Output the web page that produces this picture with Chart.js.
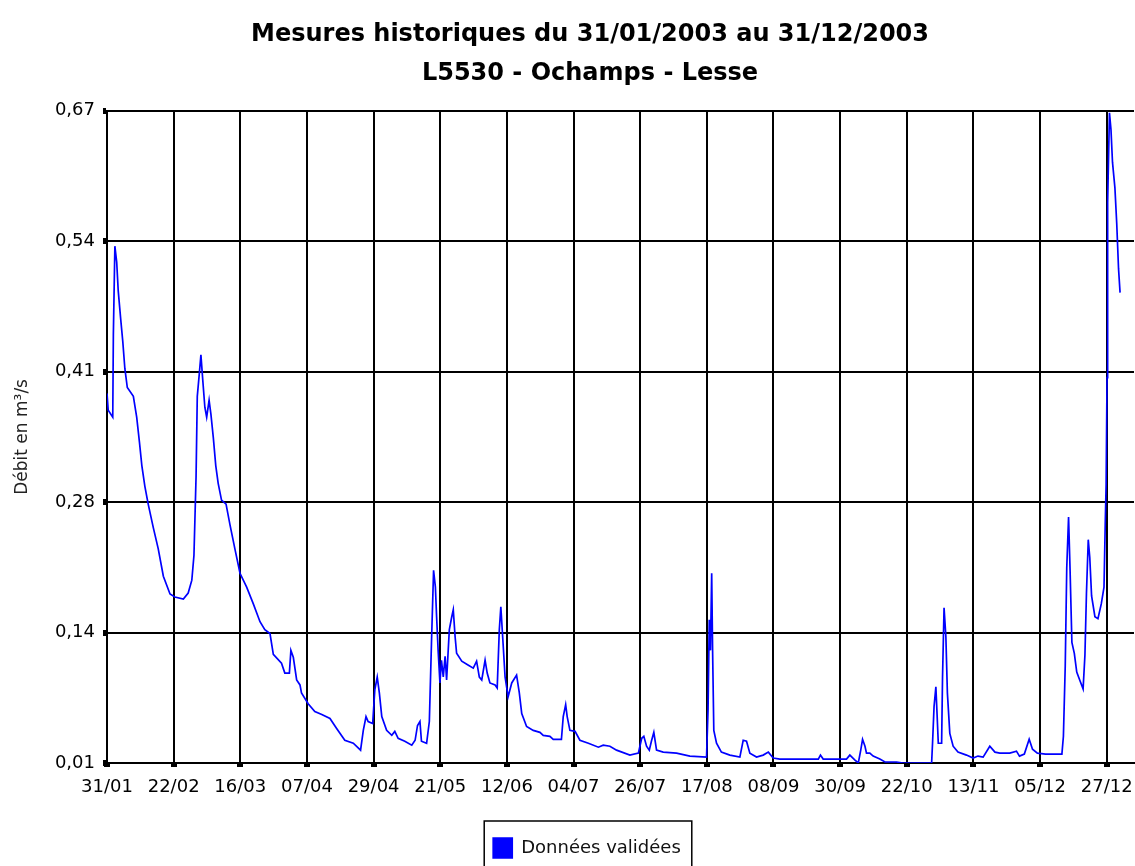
<!DOCTYPE html>
<html>
<head>
<meta charset="utf-8">
<script src="https://cdn.jsdelivr.net/npm/chart.js@4.4.1/dist/chart.umd.min.js"></script>
<style>
  html, body { margin: 0; padding: 0; background: #fff; overflow: hidden; }
  #wrap { width: 1135px; height: 868px; position: relative; }
</style>
</head>
<body>
<div id="wrap"><canvas id="chart"></canvas></div>
<script>
// days counted from 31/01/2003 (m3/s)
const days = [
  0, 0.4, 1.9, 2.1, 2.6, 3.2, 3.7, 4.5, 5.2, 5.9, 6.7, 8.7, 9.8, 10.7, 11.5, 12.5, 13.6, 15.3, 16.9, 18.6,
  20.8, 22.4, 25.2, 26.8, 28, 28.7, 29.4, 29.8, 30.5, 31, 31.6, 32.3, 32.9, 33.7, 34.3, 35.1, 35.9, 36.7, 37.8, 39.3,
  40.6, 42.2, 43.9, 46.1, 48.3, 50.5, 52.1, 53.8, 54.9, 57.6, 58.7, 60.2, 60.7, 61.5, 62.6, 63.7, 64.2, 66.4, 68.6, 70.9,
  73.6, 75.8, 78.5, 81.3, 83.7, 84.6, 85.5, 86.2, 87.7, 88.4, 89.2, 89.9, 90.7, 92.3, 94, 95, 96.1, 98.3, 100.6, 101.7,
  102.5, 103.3, 103.8, 105.5, 106.4, 107.1, 107.8, 108.4, 108.8, 109.3, 109.9, 110.4, 111, 111.6, 112.1, 113, 113.8, 114.3, 114.9, 115.4,
  117.1, 119.3, 120.9, 122, 122.9, 123.7, 124.8, 125.5, 126.4, 128.1, 128.8, 129.5, 130, 130.6, 131.4, 132.4, 133.6, 135.2, 136.1, 136.9,
  138.5, 140.7, 142.9, 144, 146.2, 147.3, 150, 150.6, 151.4, 151.9, 152.8, 154.5, 156.1, 158.9, 162.2, 163.8, 166, 168.2, 172.6, 175.4,
  176.5, 177.2, 178.1, 179, 179.7, 180.5, 181.4, 183.6, 188, 192.4, 197.9, 198.4, 198.8, 199.2, 199.6, 199.9, 200.3, 201.2, 202.8, 205.6,
  208.9, 210, 211.1, 212.2, 214.4, 216.6, 218.3, 219.9, 222.1, 234.8, 235.5, 236.4, 244.1, 245.2, 246.9, 248, 248.8, 249.4, 250.2, 250.7,
  251.8, 252.9, 255.1, 256.8, 260.6, 262.8, 272.2, 272.5, 273, 273.6, 274, 274.4, 275.5, 275.8, 276.3, 276.9, 277.4, 278.2, 279.3, 280.9,
  283.7, 285.9, 287.5, 289.2, 291.4, 293.1, 294.7, 298, 300.2, 301.2, 302.8, 304.4, 305.5, 307.1, 309.8, 315.2, 315.7, 316.3, 316.8, 317.4,
  317.9, 318.5, 319.3, 320.1, 321.2, 322.2, 322.8, 323.3, 323.9, 324.4, 325, 326.1, 327.1, 328.2, 329.1, 329.5, 329.8, 330.1, 330.3, 330.9,
  331.4, 331.9, 332.7, 333.3, 333.9, 334.4
]
const debit = [
  0.384, 0.367, 0.360, 0.444, 0.533, 0.517, 0.488, 0.460, 0.437, 0.409, 0.390, 0.381, 0.360, 0.335, 0.311, 0.290, 0.272, 0.248, 0.227, 0.199,
  0.181, 0.178, 0.176, 0.182, 0.195, 0.220, 0.300, 0.381, 0.405, 0.423, 0.398, 0.370, 0.360, 0.377, 0.363, 0.339, 0.311, 0.293, 0.276, 0.272,
  0.251, 0.227, 0.202, 0.188, 0.171, 0.153, 0.145, 0.141, 0.120, 0.111, 0.101, 0.101, 0.124, 0.117, 0.094, 0.089, 0.081, 0.070, 0.062, 0.059,
  0.055, 0.045, 0.033, 0.030, 0.023, 0.043, 0.057, 0.052, 0.050, 0.084, 0.097, 0.081, 0.057, 0.043, 0.038, 0.042, 0.035, 0.032, 0.028, 0.033,
  0.048, 0.052, 0.032, 0.030, 0.052, 0.131, 0.205, 0.188, 0.158, 0.124, 0.091, 0.114, 0.097, 0.118, 0.094, 0.145, 0.158, 0.165, 0.138, 0.121,
  0.113, 0.109, 0.106, 0.113, 0.097, 0.094, 0.114, 0.101, 0.091, 0.089, 0.086, 0.145, 0.168, 0.138, 0.097, 0.077, 0.091, 0.099, 0.081, 0.060,
  0.047, 0.043, 0.041, 0.038, 0.037, 0.034, 0.034, 0.057, 0.069, 0.057, 0.043, 0.042, 0.033, 0.030, 0.026, 0.028, 0.027, 0.023, 0.018, 0.020,
  0.035, 0.037, 0.027, 0.023, 0.032, 0.041, 0.023, 0.021, 0.020, 0.017, 0.016, 0.064, 0.155, 0.124, 0.202, 0.124, 0.043, 0.030, 0.021, 0.018,
  0.016, 0.033, 0.032, 0.020, 0.016, 0.018, 0.021, 0.015, 0.014, 0.014, 0.018, 0.014, 0.014, 0.018, 0.013, 0.010, 0.023, 0.034, 0.027, 0.020,
  0.020, 0.017, 0.014, 0.011, 0.011, 0.010, 0.010, 0.030, 0.067, 0.087, 0.059, 0.030, 0.030, 0.097, 0.167, 0.138, 0.081, 0.040, 0.027, 0.021,
  0.018, 0.015, 0.017, 0.016, 0.027, 0.021, 0.020, 0.020, 0.022, 0.017, 0.019, 0.034, 0.024, 0.020, 0.019, 0.019, 0.037, 0.108, 0.207, 0.259,
  0.205, 0.132, 0.121, 0.102, 0.093, 0.085, 0.119, 0.181, 0.236, 0.218, 0.179, 0.158, 0.156, 0.171, 0.188, 0.251, 0.292, 0.400, 0.577, 0.668,
  0.651, 0.618, 0.592, 0.556, 0.510, 0.486
]

const xTickDays = [0, 22, 44, 66, 88, 110, 132, 154, 176, 198, 220, 242, 264, 286, 308, 330]
const xTickLabels = ["31/01", "22/02", "16/03", "07/04", "29/04", "21/05", "12/06", "04/07",
                     "26/07", "17/08", "08/09", "30/09", "22/10", "13/11", "05/12", "27/12"]
const yTickValues = [0.01, 0.142, 0.274, 0.406, 0.538, 0.67]
const yTickLabels = ["0,01", "0,14", "0,28", "0,41", "0,54", "0,67"]

const titleLines = ["Mesures historiques du 31/01/2003 au 31/12/2003", "L5530 - Ochamps - Lesse"]
const seriesLabel = "Données validées"
const yTitle = "Débit en m³/s"

const points = days.map((d, i) => ({x: d, y: debit[i]}))

// the original picture centres title and legend a little right of the canvas middle
const shiftBlocks = {
    id: "shiftBlocks",
    afterLayout(chart){
        chart.titleBlock.left += 23
        chart.titleBlock.right += 23
        chart.legend.left += 20
        chart.legend.right += 20
    },
    afterDraw(chart){
        const lg = chart.legend
        const hb = lg.legendHitBoxes[0]
        if (!hb) return
        const cx = (lg.left + lg.right) / 2
        const ctx = chart.ctx
        ctx.save()
        ctx.strokeStyle = "#000"
        ctx.lineWidth = 1.5
        ctx.strokeRect(cx - hb.width / 2 - 9, lg.top - 7, hb.width + 20, 70)
        ctx.restore()
    }
}

Chart.defaults.font.family = "'DejaVu Sans', sans-serif"
Chart.defaults.color = "#000"

new Chart(document.getElementById("chart"), {
    type: "line",
    data: {
        datasets: [{
            label: seriesLabel,
            data: points,
            borderColor: "rgb(0,0,255)",
            backgroundColor: "rgb(0,0,255)",
            borderWidth: 1.7,
            pointRadius: 0,
            tension: 0
        }]
    },
    options: {
        responsive: true,
        maintainAspectRatio: false,
        animation: false,
        layout: { padding: { left: 0, right: 1, top: 0, bottom: 0 } },
        plugins: {
            title: {
                display: true,
                text: titleLines,
                color: "#000",
                font: { size: 24, weight: "bold", lineHeight: 1.6 },
                padding: { top: 16, bottom: 18 }
            },
            legend: {
                position: "bottom",
                labels: {
                    boxWidth: 19,
                    boxHeight: 20,
                    padding: 10,
                    color: "#111",
                    font: { size: 18 }
                }
            },
            tooltip: { enabled: false }
        },
        scales: {
            x: {
                type: "linear",
                min: 0,
                max: 339,
                afterBuildTicks: scale => { scale.ticks = xTickDays.map(v => ({value: v})) },
                afterFit: scale => {
                    scale.height = 65
                    scale.paddingLeft = 0
                    scale.paddingRight = 0
                },
                ticks: {
                    autoSkip: false,
                    maxRotation: 0,
                    padding: 10,
                    color: "#000",
                    font: { size: 18 },
                    callback: (v, i) => xTickLabels[i]
                },
                grid: { color: "#000", lineWidth: 2, tickLength: 4, tickWidth: 6, tickColor: "#000" },
                border: { color: "#000", width: 2 }
            },
            y: {
                min: 0.01,
                max: 0.67,
                afterBuildTicks: scale => { scale.ticks = yTickValues.map(v => ({value: v})) },
                afterFit: scale => { scale.width = 107 },
                ticks: {
                    padding: 8,
                    color: "#000",
                    font: { size: 18 },
                    callback: (v, i) => yTickLabels[i]
                },
                grid: { color: "#000", lineWidth: 2, tickLength: 4, tickWidth: 6, tickColor: "#000" },
                border: { color: "#000", width: 2 },
                title: {
                    display: true,
                    text: yTitle,
                    color: "#222",
                    font: { size: 17 },
                    padding: { top: 12, bottom: 0 }
                }
            }
        }
    },
    plugins: [shiftBlocks]
})
</script>
</body>
</html>
